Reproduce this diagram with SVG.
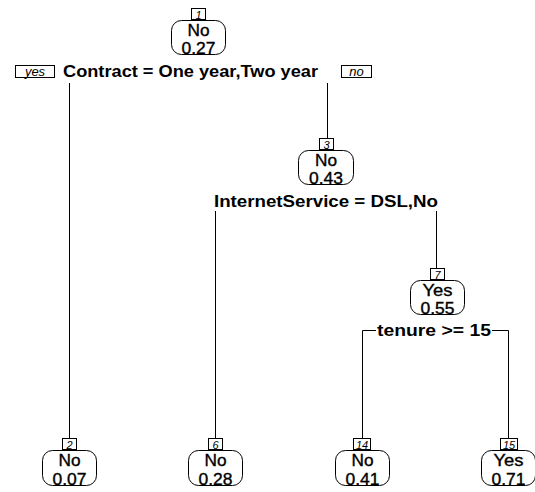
<svg xmlns="http://www.w3.org/2000/svg" width="535" height="492" viewBox="0 0 535 492">
<style>
.bg{fill:#fff}
.box{fill:#fff;stroke:#000;stroke-width:1}
.num{fill:#fff;stroke:#000;stroke-width:1}
.numt{font-family:"Liberation Sans",Arial,sans-serif;font-style:italic;font-size:11px;text-anchor:middle}
.nt{font-family:"Liberation Sans",Arial,sans-serif;font-size:16px;text-anchor:middle;stroke:#000;stroke-width:0.35}
.sl{font-family:"Liberation Sans",Arial,sans-serif;font-weight:bold;font-size:16px}
.yn{font-family:"Liberation Sans",Arial,sans-serif;font-style:italic;font-size:13px;text-anchor:middle}
.ln{fill:none;stroke:#000;stroke-width:1}
</style>
<rect class="bg" x="0" y="0" width="535" height="492"/>
<g id="connectors">
<path class="ln" d="M69.5 83V438"/>
<path class="ln" d="M327.5 83V138"/>
<path class="ln" d="M215.5 211V438"/>
<path class="ln" d="M436.5 211V268"/>
<path class="ln" d="M362.5 438V330.5H376"/>
<path class="ln" d="M492 330.5H508.5V438"/>
</g>
<g id="split1">
<rect class="num" x="15.5" y="65.5" width="39" height="12"/>
<text class="yn" x="35" y="76">yes</text>
<text class="sl" x="63" y="77" textLength="255" lengthAdjust="spacingAndGlyphs">Contract = One year,Two year</text>
<rect class="num" x="341.5" y="65.5" width="30" height="12"/>
<text class="yn" x="356.5" y="76">no</text>
</g>
<g id="split2">
<text class="sl" x="214" y="207" textLength="224" lengthAdjust="spacingAndGlyphs">InternetService = DSL,No</text>
</g>
<g id="split3">
<text class="sl" x="377" y="336" textLength="114" lengthAdjust="spacingAndGlyphs">tenure &gt;= 15</text>
</g>
<g id="node1">
<rect class="num" x="191.5" y="8.5" width="14" height="11"/>
<text class="numt" x="198.5" y="18.5">1</text>
<rect class="box" x="171.5" y="20.5" width="54" height="34" rx="10"/>
<text class="nt" x="198.5" y="36" textLength="22" lengthAdjust="spacingAndGlyphs">No</text>
<text class="nt" x="198.5" y="54" textLength="34" lengthAdjust="spacingAndGlyphs">0.27</text>
</g>
<g id="node3">
<rect class="num" x="319.5" y="138.5" width="14" height="11"/>
<text class="numt" x="326.5" y="148.5">3</text>
<rect class="box" x="298.5" y="150.5" width="55" height="34" rx="10"/>
<text class="nt" x="326" y="166" textLength="22" lengthAdjust="spacingAndGlyphs">No</text>
<text class="nt" x="326" y="184" textLength="34" lengthAdjust="spacingAndGlyphs">0.43</text>
</g>
<g id="node7">
<rect class="num" x="430.5" y="268.5" width="14" height="11"/>
<text class="numt" x="437.5" y="278.5">7</text>
<rect class="box" x="410.5" y="280.5" width="54" height="34" rx="10"/>
<text class="nt" x="437.5" y="296" textLength="30" lengthAdjust="spacingAndGlyphs">Yes</text>
<text class="nt" x="437.5" y="314" textLength="34" lengthAdjust="spacingAndGlyphs">0.55</text>
</g>
<g id="node2">
<rect class="num" x="62.5" y="438.5" width="14" height="11"/>
<text class="numt" x="69.5" y="448.5">2</text>
<rect class="box" x="42.5" y="450.5" width="54" height="35" rx="10"/>
<text class="nt" x="69.5" y="466" textLength="22" lengthAdjust="spacingAndGlyphs">No</text>
<text class="nt" x="69.5" y="485" textLength="34" lengthAdjust="spacingAndGlyphs">0.07</text>
</g>
<g id="node6">
<rect class="num" x="208.5" y="438.5" width="14" height="11"/>
<text class="numt" x="215.5" y="448.5">6</text>
<rect class="box" x="188.5" y="450.5" width="54" height="35" rx="10"/>
<text class="nt" x="215.5" y="466" textLength="22" lengthAdjust="spacingAndGlyphs">No</text>
<text class="nt" x="215.5" y="485" textLength="34" lengthAdjust="spacingAndGlyphs">0.28</text>
</g>
<g id="node14">
<rect class="num" x="353.5" y="438.5" width="17" height="11"/>
<text class="numt" x="362" y="448.5">14</text>
<rect class="box" x="335.5" y="450.5" width="54" height="35" rx="10"/>
<text class="nt" x="362.5" y="466" textLength="22" lengthAdjust="spacingAndGlyphs">No</text>
<text class="nt" x="362.5" y="485" textLength="34" lengthAdjust="spacingAndGlyphs">0.41</text>
</g>
<g id="node15">
<rect class="num" x="500.5" y="438.5" width="17" height="11"/>
<text class="numt" x="509" y="448.5">15</text>
<rect class="box" x="481.5" y="450.5" width="54" height="35" rx="10"/>
<text class="nt" x="508.5" y="466" textLength="30" lengthAdjust="spacingAndGlyphs">Yes</text>
<text class="nt" x="508.5" y="485" textLength="34" lengthAdjust="spacingAndGlyphs">0.71</text>
</g>
</svg>
